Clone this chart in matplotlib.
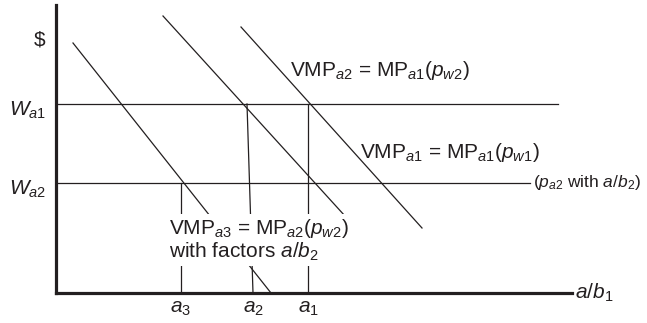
import matplotlib
matplotlib.use("Agg")
import matplotlib.pyplot as plt

plt.rcParams['font.family'] = ['Liberation Sans', 'DejaVu Sans']
plt.rcParams['mathtext.fontset'] = 'custom'
plt.rcParams['mathtext.rm'] = 'Liberation Sans'
plt.rcParams['mathtext.it'] = 'Liberation Sans:italic'

ink = '#231f20'

# demand curves (value of marginal product), start and end points
vmp_a3_x = [17, 215]
vmp_a3_y = [250, 0]
vmp_a1_x = [107, 289]
vmp_a1_y = [277, 77]
vmp_a2_x = [185, 366]
vmp_a2_y = [266, 65]

# wage levels and how far their lines run
wage_levels = [189, 110]
wage_ends = [502, 474]
wage_labels = [r'$\mathit{W}_{\mathit{a1}}$', r'$\mathit{W}_{\mathit{a2}}$']

# employment levels: a1 and a3 straight, a2 drawn top to bottom
a1_x = 252
a3_x = 125
a2_x = [191, 197]
a_labels = [r'$\mathit{a}_{3}$', r'$\mathit{a}_{2}$', r'$\mathit{a}_{1}$']

fig = plt.figure(figsize=(6.47, 3.23), dpi=100)
ax = fig.add_axes([56 / 647, 30 / 323, (572 - 56) / 647, (293 - 5) / 323])
ax.set_xlim(0, 516)
ax.set_ylim(0, 288)
for s in ['top', 'right']:
    ax.spines[s].set_visible(False)
for s in ['left', 'bottom']:
    ax.spines[s].set_linewidth(2.3)
    ax.spines[s].set_color(ink)
ax.set_xticks([])
ax.set_yticks([])

lw = 0.9
ax.plot(vmp_a3_x, vmp_a3_y, color=ink, lw=lw)
ax.plot(vmp_a1_x, vmp_a1_y, color=ink, lw=lw)
ax.plot(vmp_a2_x, vmp_a2_y, color=ink, lw=lw)

for w, end, lab in zip(wage_levels, wage_ends, wage_labels):
    ax.plot([0, end], [w, w], color=ink, lw=lw)
    ax.text(-47, w - 6, lab, fontsize=15, color=ink, ha='left', va='center', clip_on=False)

ax.plot([a1_x, a1_x], [0, wage_levels[0]], color=ink, lw=lw)
ax.plot(a2_x, [wage_levels[0], 0], color=ink, lw=lw)
ax.plot([a3_x, a3_x], [0, wage_levels[1]], color=ink, lw=lw)

for x, lab in zip([a3_x, a2_x[1], a1_x], a_labels):
    ax.text(x, -15, lab, fontsize=15, color=ink, ha='center', va='center', clip_on=False)

ax.text(-16, 253, '$', fontsize=15, color=ink, ha='center', va='center', clip_on=False)
ax.text(519, 0, r'$\mathit{a/b}_{1}$', fontsize=15, color=ink, ha='left', va='center', clip_on=False)

ax.text(234, 223, r'VMP$_{\mathit{a2}}$ = MP$_{\mathit{a1}}$($\mathit{p}_{\mathit{w2}}$)',
        fontsize=15, color=ink, ha='left', va='center')
ax.text(304, 140, r'VMP$_{\mathit{a1}}$ = MP$_{\mathit{a1}}$($\mathit{p}_{\mathit{w1}}$)',
        fontsize=15, color=ink, ha='left', va='center')
ax.text(477, 110, r'($\mathit{p}_{\mathit{a2}}$ with $\mathit{a/b}_{2}$)',
        fontsize=12.5, color=ink, ha='left', va='center', clip_on=False)

ax.text(113, 53, 'VMP$_{\\mathit{a3}}$ = MP$_{\\mathit{a2}}$($\\mathit{p}_{\\mathit{w2}}$)\nwith factors $\\mathit{a/b}_{2}$',
        fontsize=15, color=ink, ha='left', va='center', linespacing=1.05,
        bbox=dict(fc='white', ec='none', pad=2))

fig.savefig('out.png', dpi=100)
